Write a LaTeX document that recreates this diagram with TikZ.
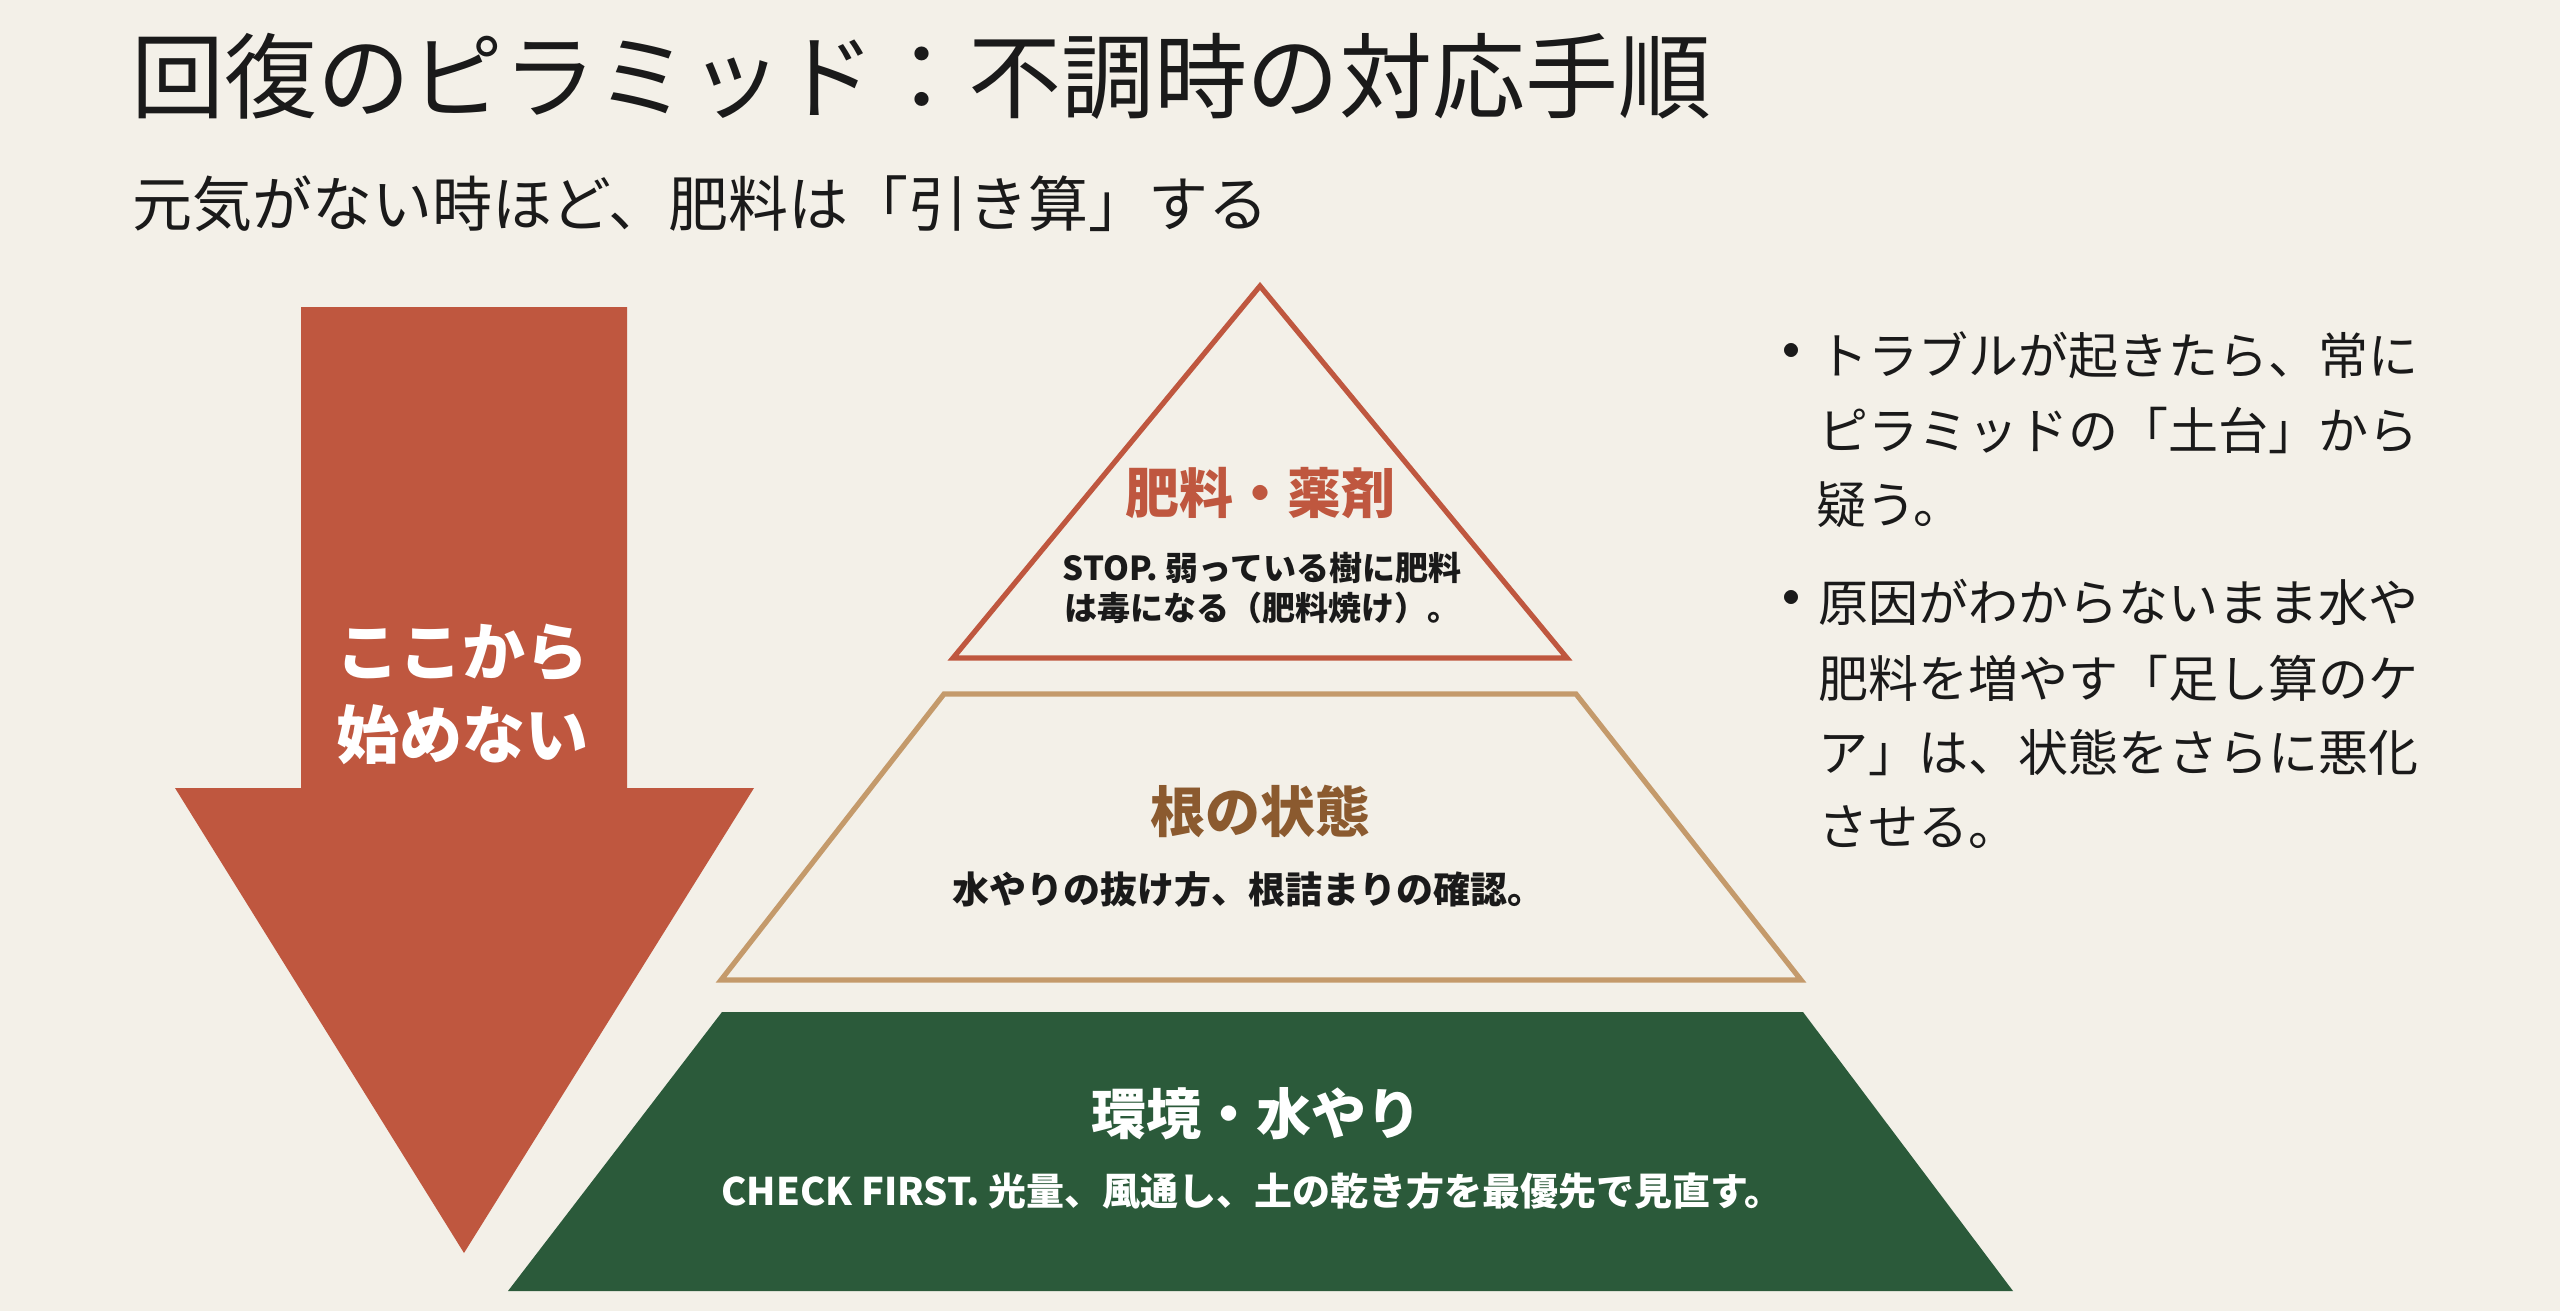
\documentclass[tikz,border=0pt]{standalone}
\usepackage{fontspec}
\newfontfamily\jp{Noto Sans CJK JP}
\definecolor{bg}{HTML}{F3F0E8}
\definecolor{terra}{HTML}{BF573F}
\definecolor{tanc}{HTML}{C49A6B}
\definecolor{brownt}{HTML}{8B5A2F}
\definecolor{forest}{HTML}{2B5A3A}
\definecolor{inkc}{HTML}{1A1A1A}
\begin{document}
\begin{tikzpicture}[x=0.5pt,y=-0.5pt,
  txt/.style={inner sep=0pt,outer sep=0pt,text=inkc},
  fs/.style={font={\jp\fontsize{#1}{#1}\selectfont}},
  bfs/.style={font={\jp\bfseries\fontsize{#1}{#1}\selectfont}},
  bul/.style={txt,anchor=west,fs=25},
]
\fill[bg] (0,0) rectangle (2560,1311);
\useasboundingbox (0,0) rectangle (2560,1311);

% title and subtitle
\node[txt,anchor=west,fs=46.5] (title) at (131,76) {回復のピラミッド：不調時の対応手順};
\node[txt,anchor=west,fs=30] (subtitle) at (132,204) {元気がない時ほど、肥料は「引き算」する};

% big arrow
\fill[terra] (301,307) -- (627,307) -- (627,788) -- (754,788) -- (464,1253) -- (175,788) -- (301,788) -- cycle;
\node[txt,text=white,align=center,font={\jp\bfseries\fontsize{31.5}{41.5}\selectfont}] (arrowtxt) at (462,694) {ここから\\始めない};

% pyramid top
\draw[terra,line width=2.6pt,line join=miter] (1260,286) -- (1567,658) -- (953,658) -- cycle;
\node[txt,text=terra,bfs=27] (toptitle) at (1260,493) {肥料・薬剤};
\node[txt,align=center,font={\jp\bfseries\fontsize{16.5}{20}\selectfont}] (topsub) at (1262,588) {STOP. 弱っている樹に肥料\\は毒になる（肥料焼け）。};

% pyramid middle
\draw[tanc,line width=2.6pt,line join=miter] (944,694) -- (1576,694) -- (1801,980) -- (721,980) -- cycle;
\node[txt,text=brownt,bfs=27.5] (midtitle) at (1260,811) {根の状態};
\node[txt,bfs=18.5] (midsub) at (1248,889) {水やりの抜け方、根詰まりの確認。};

% pyramid bottom
\fill[forest] (722,1012) -- (1803,1012) -- (2013,1291) -- (508,1291) -- cycle;
\node[txt,text=white,bfs=27.5] (bottitle) at (1256,1114) {環境・水やり};
\node[txt,text=white,bfs=19] (botsub) at (1252,1191) {CHECK FIRST. 光量、風通し、土の乾き方を最優先で見直す。};

% bullets
\node[txt,bfs=25] (b1) at (1791,356) {・};
\node[bul] (l1) at (1818,355) {トラブルが起きたら、常に};
\node[bul] (l2) at (1818,430) {ピラミッドの「土台」から};
\node[bul] (l3) at (1816,505) {疑う。};
\node[txt,bfs=25] (b2) at (1791,603) {・};
\node[bul] (l4) at (1818,602) {原因がわからないまま水や};
\node[bul] (l5) at (1818,678) {肥料を増やす「足し算のケ};
\node[bul] (l6) at (1818,753) {ア」は、状態をさらに悪化};
\node[bul] (l7) at (1818,827) {させる。};
\end{tikzpicture}
\end{document}
